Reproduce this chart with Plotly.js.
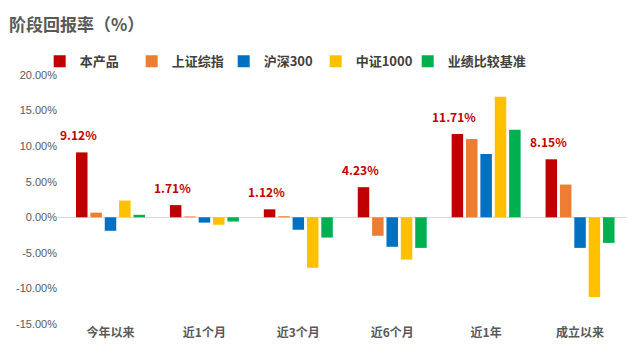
<!DOCTYPE html>
<html><head><meta charset="utf-8">
<script src="https://cdn.plot.ly/plotly-3.0.1.min.js"></script>
<style>html,body{margin:0;padding:0;background:#fff;}#c{width:640px;height:361px;}</style>
</head><body><div id="c"></div>
<script>
const categories = ['今年以来','近1个月','近3个月','近6个月','近1年','成立以来'];
const seriesNames = ['本产品','上证综指','沪深300','中证1000','业绩比较基准'];
const product   = [9.12, 1.71, 1.12, 4.23, 11.71, 8.15];
const shIndex   = [0.65, 0.12, 0.15, -2.6, 11.0, 4.6];
const hs300     = [-1.9, -0.75, -1.75, -4.15, 8.9, -4.3];
const zz1000    = [2.35, -1.05, -7.1, -5.95, 16.95, -11.2];
const benchmark = [0.35, -0.6, -2.85, -4.3, 12.3, -3.6];
const colors = ['#C00000','#ED7D31','#0070C0','#FFC000','#00B050'];
const yTicks = [-15,-10,-5,0,5,10,15,20];

const data = [product, shIndex, hs300, zz1000, benchmark].map((v,i)=>({
  type:'bar', x:categories, y:v, name:seriesNames[i],
  marker:{color:colors[i]}, hoverinfo:'none'
}));
// invisible spacer legend entry so the last legend label is not clipped
data.push({type:'scatter', mode:'markers', x:[categories[0]], y:[null], name:' ',
  marker:{opacity:0, color:'rgba(0,0,0,0)'}, hoverinfo:'none', showlegend:true});

const annotations = categories.map((c,i)=>({
  x:c, y:Math.max(product[i],0), xref:'x', yref:'y',
  xshift:-32, yshift:7, yanchor:'bottom',
  text:'<b>'+product[i].toFixed(2)+'%</b>', showarrow:false,
  font:{size:12, color:'#C00000', family:'Noto Sans CJK SC, Liberation Sans, sans-serif'}
}));

const layout = {
  width:640, height:361,
  margin:{l:58, r:13, t:75, b:37, autoexpand:false},
  paper_bgcolor:'#fff', plot_bgcolor:'#fff',
  barmode:'group', bargap:0.235, bargroupgap:0.2,
  font:{family:'Noto Sans CJK SC, Liberation Sans, sans-serif', color:'#595959'},
  title:{text:'阶段回报率（%）', x:0.014, xref:'container', xanchor:'left',
    y:0.93, yref:'container', yanchor:'middle',
    font:{size:17, color:'#595959', weight:'bold'}},
  showlegend:true,
  legend:{orientation:'h', xref:'container', yref:'container', x:0.062, y:0.83,
    xanchor:'left', yanchor:'middle', itemwidth:30, entrywidth:47,
    bgcolor:'rgba(0,0,0,0)',
    font:{size:13, color:'#404040', weight:'bold'}, traceorder:'normal'},
  xaxis:{showgrid:false, zeroline:false, showline:false, ticks:'',
    tickfont:{size:12, color:'#595959', weight:'bold'}, fixedrange:true},
  yaxis:{range:[-15,20], tickvals:yTicks, ticktext:yTicks.map(v=>v.toFixed(2)+'%'),
    showgrid:false, zeroline:true, zerolinecolor:'#D9D9D9', zerolinewidth:1.5,
    showline:false, ticks:'', tickfont:{size:11, color:'#595959', family:'Liberation Sans, sans-serif'}},
  annotations:annotations
};
Plotly.newPlot('c', data, layout, {staticPlot:true, displayModeBar:false});
</script></body></html>
